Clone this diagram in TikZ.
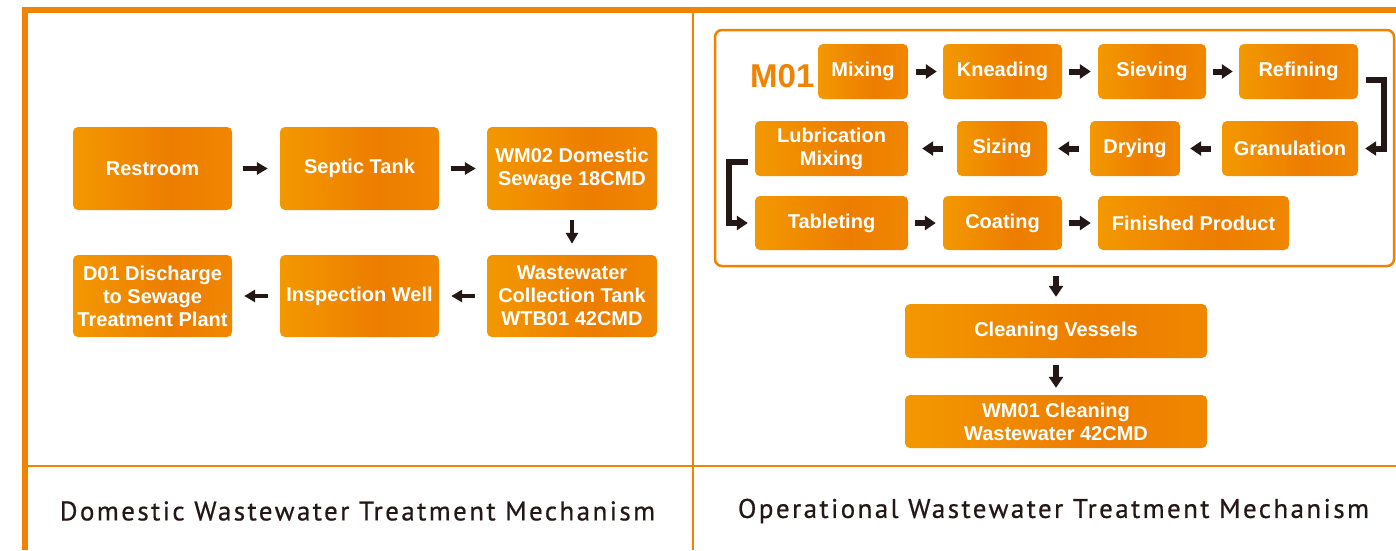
\documentclass[tikz,border=0pt]{standalone}
\usepackage{fontspec}
\setmainfont{Liberation Sans}
\newfontfamily\dinfont[LetterSpace=9,FakeBold=0.6]{PT Sans}
\usetikzlibrary{arrows.meta,positioning}
\definecolor{oL}{RGB}{243,152,0}
\definecolor{oD}{RGB}{237,125,0}
\definecolor{oR}{RGB}{240,135,0}
\definecolor{frameC}{RGB}{240,131,0}
\definecolor{darkC}{RGB}{35,24,21}
\pgfdeclarehorizontalshading{boxshade}{100bp}{color(0bp)=(oL); color(25bp)=(oL); color(56bp)=(oD); color(75bp)=(oR); color(100bp)=(oR)}
\tikzset{
  box/.style={shading=boxshade, rounded corners=5pt, inner sep=0pt, align=center,
    text=white, font=\bfseries\fontsize{20}{23}\selectfont},
  larr/.style={draw=darkC, line width=4.5pt, -{Triangle[length=11pt,width=12pt]}},
  rarr/.style={draw=darkC, line width=6pt, -{Triangle[length=11pt,width=14pt]}},
  caption/.style={text=darkC, font=\dinfont\fontsize{27}{30}\selectfont},
}
\begin{document}
\begin{tikzpicture}[x=1pt,y=-1pt]
\useasboundingbox (0,0) rectangle (1396,550);
% frame
\fill[white] (0,0) rectangle (1396,550);
\draw[frameC, line width=2pt] (693,12) -- (693,550);
\draw[frameC, line width=2.5pt] (28,466) -- (1396,466);
\fill[frameC] (22,7) rectangle (1396,13);
\fill[frameC] (22,7) rectangle (28,550);
% left panel
\node[box, minimum width=159pt, minimum height=83pt] (restroom) at (152.5,168.5) {Restroom};
\node[box, minimum width=159pt, minimum height=83pt] (septic) at (359.5,168.5) {Septic Tank};
\node[box, minimum width=170pt, minimum height=83pt] (wm02) at (572,168.5) {WM02 Domestic\\Sewage 18CMD};
\node[box, minimum width=170pt, minimum height=82pt] (collect) at (572,296) {Wastewater\\Collection Tank\\WTB01 42CMD};
\node[box, minimum width=159pt, minimum height=82pt] (inspect) at (359.5,296) {Inspection Well};
\node[box, minimum width=159pt, minimum height=82pt] (d01) at (152.5,296) {D01 Discharge\\to Sewage\\Treatment Plant};
\draw[larr, shorten <=11pt, shorten >=12pt] (restroom) -- (septic);
\draw[larr, shorten <=12pt, shorten >=11pt] (septic) -- (wm02);
\draw[larr, shorten <=10pt, shorten >=11pt] (wm02) -- (collect);
\draw[larr, shorten <=12pt, shorten >=12pt] (collect) -- (inspect);
\draw[larr, shorten <=12pt, shorten >=12pt] (inspect) -- (d01);
% right panel frame
\node[draw=frameC, line width=2.5pt, rounded corners=7pt, minimum width=679pt, minimum height=236pt, inner sep=0pt] (m01frame) at (1054.5,148) {};
\node[anchor=base west, inner sep=0pt, text=frameC, font=\bfseries\fontsize{33}{36}\selectfont] (m01) at (750,87) {M01};
% row 1
\node[box, minimum width=90pt, minimum height=55pt] (mixing) at (863,71.5) {Mixing};
\node[box, minimum width=119pt, minimum height=55pt] (kneading) at (1002.5,71.5) {Kneading};
\node[box, minimum width=108pt, minimum height=55pt] (sieving) at (1152,71.5) {Sieving};
\node[box, minimum width=119pt, minimum height=55pt] (refining) at (1298.5,71.5) {Refining};
% row 2
\node[box, minimum width=136pt, minimum height=55pt] (gran) at (1290,148.5) {Granulation};
\node[box, minimum width=90pt, minimum height=55pt] (drying) at (1135,148.5) {Drying};
\node[box, minimum width=90pt, minimum height=55pt] (sizing) at (1002,148.5) {Sizing};
\node[box, minimum width=153pt, minimum height=55pt] (lub) at (831.5,148.5) {Lubrication\\Mixing};
% row 3
\node[box, minimum width=153pt, minimum height=54pt] (tab) at (831.5,223) {Tableting};
\node[box, minimum width=119pt, minimum height=54pt] (coat) at (1002.5,223) {Coating};
\node[box, minimum width=191pt, minimum height=54pt] (fin) at (1193.5,223) {Finished Product};
% lower
\node[box, minimum width=302pt, minimum height=54pt] (clean) at (1056,331) {Cleaning Vessels};
\node[box, minimum width=302pt, minimum height=53pt] (wm01) at (1056,421.5) {WM01 Cleaning\\Wastewater 42CMD};
% right arrows
\draw[rarr, shorten <=8pt, shorten >=6pt] (mixing) -- (kneading);
\draw[rarr, shorten <=7pt, shorten >=7pt] (kneading) -- (sieving);
\draw[rarr, shorten <=7pt, shorten >=6pt] (sieving) -- (refining);
\draw[rarr] ([shift={(8pt,-8.5pt)}]refining.east) -- ++(18pt,0pt) |- ([xshift=7pt]gran.east);
\draw[rarr, shorten <=11pt, shorten >=10pt] (gran) -- (drying);
\draw[rarr, shorten <=11pt, shorten >=11pt] (drying) -- (sizing);
\draw[rarr, shorten <=14pt, shorten >=14pt] (sizing) -- (lub);
\draw[rarr] ([shift={(-7pt,-13.5pt)}]lub.west) -- ++(-19pt,0pt) |- ([xshift=-7pt]tab.west);
\draw[rarr, shorten <=7pt, shorten >=7pt] (tab) -- (coat);
\draw[rarr, shorten <=7pt, shorten >=7pt] (coat) -- (fin);
\draw[rarr, shorten <=9pt, shorten >=7pt] (m01frame.south -| clean.north) -- (clean.north);
\draw[rarr, shorten <=7pt, shorten >=7pt] (clean) -- (wm01);
% captions
\node[caption] (cap1) at (357.5,511) {Domestic Wastewater Treatment Mechanism};
\node[caption] (cap2) at (1053.5,511) {Operational Wastewater Treatment Mechanism};
\end{tikzpicture}
\end{document}
